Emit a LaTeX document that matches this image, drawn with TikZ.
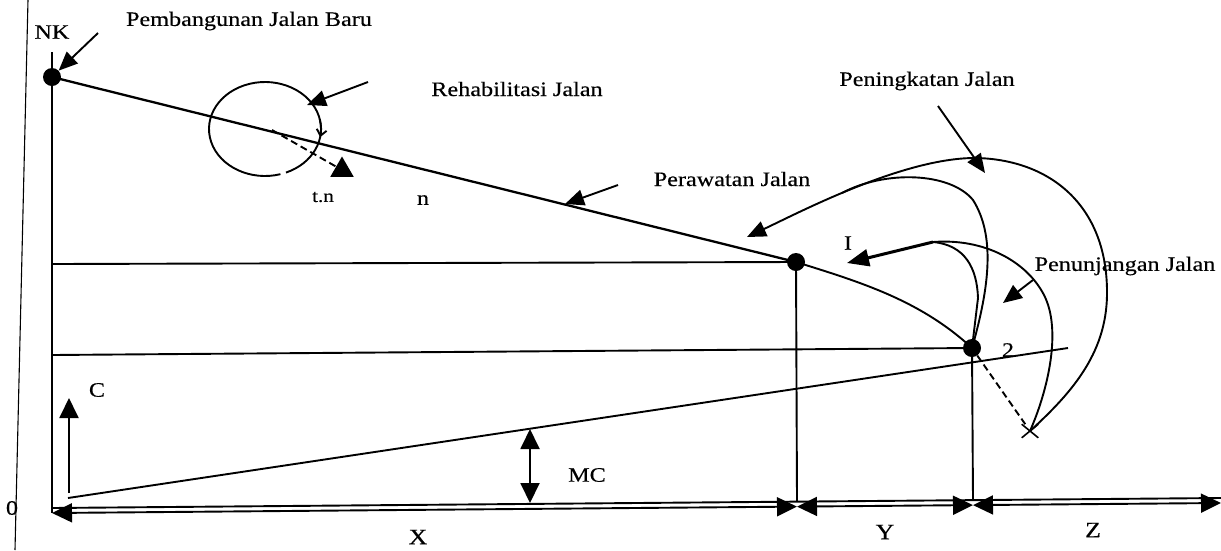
\documentclass[tikz,border=0pt]{standalone}
\usepackage{fontspec}
\setmainfont{Liberation Serif}[FakeStretch=1.18,FakeBold=0.35]
\usetikzlibrary{arrows.meta,shapes.geometric,shapes.misc}
\begin{document}
\begin{tikzpicture}[x=1pt,y=-1pt,
  ln/.style={line width=1.9pt},
  thinln/.style={line width=1.1pt},
  dot/.style={circle,fill,inner sep=0pt,minimum size=18pt},
  lab/.style={inner sep=0pt,font=\fontsize{20.5}{24}\selectfont},
  tip/.style={-{Triangle[length=19pt,width=16pt]}},
  big/.style={{Triangle[length=20pt,width=19pt]}-{Triangle[length=20pt,width=19pt]}},
  bigtip/.style={-{Triangle[length=20pt,width=19pt]}},
  dsh/.style={line width=1.9pt,dash pattern=on 7pt off 4pt},
]
\useasboundingbox (0,0) rectangle (1221,550);
% thin frame line at left
\coordinate (lt) at (28,0);
\coordinate (lb) at (15,550);
\draw[thinln] (lt) -- (lb);
% points
\node[dot] (nk) at (52,77) {};
\node[dot] (p1) at (796,262) {};
\node[dot] (p2) at (972,348) {};
\node[cross out,draw,line width=1.6pt,minimum width=15pt,minimum height=12pt,inner sep=0pt] (xm) at (1030,431) {};
% vertical axis
\coordinate (ytop) at (52,52);
\coordinate (o) at (52,513);
\draw[ln] (ytop) -- (o);
% main line and curve
\draw[line width=2.3pt] (nk.center) -- (p1.center);
\draw[ln] (p1.center) .. controls (860,282) and (920,300) .. (p2.center);
% horizontal lines
\coordinate (h1) at (52,264);
\coordinate (h2) at (52,355);
\draw[ln] (h1) -- (p1.center);
\draw[ln] (h2) -- (p2.center);
% sloped MC line
\coordinate (s0) at (68,498);
\coordinate (s1) at (1068,348);
\draw[ln] (s0) -- (s1);
% bottom axis
\coordinate (a0) at (52,508);
\coordinate (a1) at (1221,498);
\draw[ln] (a0) -- (a1);
\coordinate (v1) at (797,501.5);
\coordinate (v2) at (973,500);
\draw[ln] (p1.center) -- (v1);
\draw[ln] (p2.center) -- (v2);
\coordinate (d0) at (52,513);
\coordinate (d1) at (797,506.6);
\coordinate (d2) at (973,505.1);
\coordinate (d3) at (1221,503);
\draw[ln,big] (d0) -- (d1);
\draw[ln,big] (d1) -- (d2);
\draw[ln,big] (d2) -- (d3);
% C arrow and MC arrow
\coordinate (c0) at (69,493);
\coordinate (c1) at (69,398);
\draw[ln,bigtip] (c0) -- (c1);
\coordinate (m0) at (530,429);
\coordinate (m1) at (530,503);
\draw[ln,big] (m0) -- (m1);
% rehabilitation circle
\coordinate (rc) at (265,129);
\draw[ln] (rc) ++(74:56 and 47) arc[start angle=74,end angle=428,x radius=56,y radius=47];
\draw[ln,-{Straight Barb[length=6pt,width=10pt]}] (rc) ++(-12:56 and 47) arc[start angle=-12,end angle=10,x radius=56,y radius=47];
\coordinate (ra) at (368,82);
\coordinate (rt) at (307,105);
\draw[ln,tip] (ra) -- (rt);
\coordinate (ds) at (272,130);
\node[regular polygon,regular polygon sides=3,fill,inner sep=0pt,minimum size=27pt] (tri) at (342,170) {};
\draw[dsh] (ds) -- (tri);
% NK arrow
\coordinate (nka) at (98,33);
\draw[ln,tip] (nka) -- (nk);
% Perawatan arrow
\coordinate (pa) at (618,185);
\coordinate (pt) at (565,204);
\draw[ln,tip] (pa) -- (pt);
% Peningkatan curves
\coordinate (pk1) at (1107,290);
\coordinate (pk2) at (977,158);
\coordinate (pkt) at (747,237);
\draw[ln,tip] (xm.center) .. controls (1075,390) and (1108,350) .. (pk1)
  .. controls (1106,205) and (1050,160) .. (pk2)
  .. controls (905,157) and (800,212) .. (pkt);
\coordinate (pj) at (973,200);
\coordinate (pm) at (842,193);
\draw[ln] (p2.center) .. controls (990,285) and (995,235) .. (pj)
  .. controls (950,172) and (885,170) .. (pm);
\coordinate (pka) at (938,106);
\coordinate (pkh) at (985,173);
\draw[ln,tip] (pka) -- (pkh);
% Penunjangan curves
\coordinate (i1) at (978,298);
\coordinate (im) at (933,242);
\coordinate (i2) at (1044,295);
\coordinate (it) at (847,263);
\draw[ln] (p2.center) -- (i1) .. controls (977,268) and (965,245) .. (im);
\draw[ln] (xm.center) .. controls (1048,390) and (1062,330) .. (i2)
  .. controls (1027,262) and (985,238) .. (im);
\draw[line width=3pt,-{Triangle[length=22pt,width=17pt]}] (im) -- (it);
\draw[dsh] (p2) -- (xm);
\coordinate (pna) at (1033,280);
\coordinate (pnh) at (1003,303);
\draw[ln,tip] (pna) -- (pnh);
% labels
\node[lab] (lnk) at (52,32) {NK};
\node[lab] (lpb) at (249,21) {Pembangunan Jalan Baru};
\node[lab] (lrh) at (517,89) {Rehabilitasi Jalan};
\node[lab,font=\fontsize{18}{22}\selectfont] (ltn) at (323,197) {t.n};
\node[lab] (ln) at (423,200) {n};
\node[lab] (lpr) at (732,179) {Perawatan Jalan};
\node[lab] (lpk) at (927,81) {Peningkatan Jalan};
\node[lab] (li) at (848,243) {I};
\node[lab] (lpn) at (1125,266) {Penunjangan Jalan};
\node[lab] (l2) at (1008,350) {2};
\node[lab] (lc) at (97,390) {C};
\node[lab] (lmc) at (587,475) {MC};
\node[lab] (l0) at (12,508) {0};
\node[lab,font=\fontsize{22}{26}\selectfont] (lx) at (418,537) {X};
\node[lab,font=\fontsize{22}{26}\selectfont] (ly) at (885,532) {Y};
\node[lab,font=\fontsize{22}{26}\selectfont] (lz) at (1093,530) {Z};
\end{tikzpicture}
\end{document}
